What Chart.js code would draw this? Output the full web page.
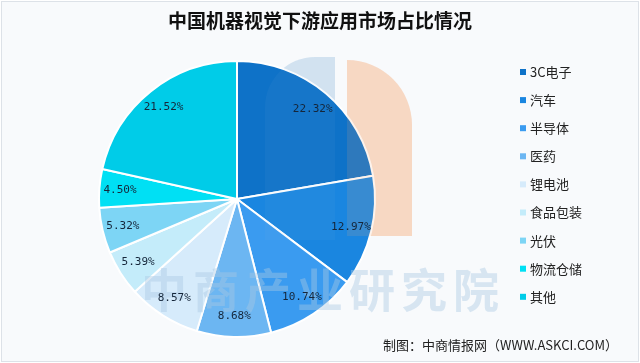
<!DOCTYPE html>
<html>
<head>
<meta charset="utf-8">
<script src="https://cdn.jsdelivr.net/npm/chart.js@4.4.0/dist/chart.umd.min.js"></script>
<style>
	html, body { margin: 0; padding: 0; background: #fff; }
	#wrap { width: 640px; height: 363px; position: relative; }
</style>
</head>
<body>
<div id="wrap"><canvas id="pieChart"></canvas></div>
<script>
// chart data
const categories = ['3C电子', '汽车', '半导体', '医药', '锂电池', '食品包装', '光伏', '物流仓储', '其他'];
const shares = [22.32, 12.97, 10.74, 8.68, 8.57, 5.39, 5.32, 4.50, 21.52];
const sliceColors = ['#0e72c8', '#1a86e0', '#3a9bf0', '#6cb6f2', '#d6ebfb', '#c4ecfa', '#7dd5f5', '#00e0f4', '#00cce8'];

const chartTitle = '中国机器视觉下游应用市场占比情况';
const sourceNote = '制图：中商情报网（WWW.ASKCI.COM）';
const watermarkText = '中商产业研究院';

const cjkFont = '"Noto Sans CJK SC", "Noto Sans", sans-serif';

// logo outline, used behind and (faintly) over the pie
let drawLogo = (ctx, blue, peach) => {
	ctx.fillStyle = blue;
	ctx.beginPath();
	ctx.moveTo(335, 57);
	ctx.lineTo(315, 57);
	ctx.arcTo(265, 57, 265, 110, 50);
	ctx.lineTo(265, 240);
	ctx.lineTo(335, 240);
	ctx.closePath();
	ctx.fill();

	ctx.fillStyle = peach;
	ctx.beginPath();
	ctx.moveTo(347, 60);
	ctx.arc(347, 125, 65, -Math.PI / 2, 0);
	ctx.lineTo(412, 236);
	ctx.lineTo(347, 236);
	ctx.closePath();
	ctx.fill();
};

// panel background + border + logo behind the pie
let panelBackground = {
	id: 'panelBackground',
	beforeDraw (chart) {
		let { ctx, width, height } = chart;
		ctx.save();
		ctx.fillStyle = '#ffffff';
		ctx.fillRect(0, 0, width, height);
		ctx.fillStyle = '#f8fafc';
		ctx.fillRect(1, 1, width - 2, height - 2);
		ctx.strokeStyle = '#dde2e8';
		ctx.lineWidth = 1;
		ctx.strokeRect(1.5, 1.5, width - 3, height - 3);
		drawLogo(ctx, '#d6e5f2', '#f9e0d0');
		ctx.restore();
	},
};

// faint logo + watermark laid over the pie
let brandOverlay = {
	id: 'brandOverlay',
	afterDatasetsDraw (chart) {
		let { ctx } = chart;
		ctx.save();
		drawLogo(ctx, 'rgba(150, 190, 225, 0.06)', 'rgba(240, 170, 120, 0.14)');
		ctx.fillStyle = 'rgba(170, 200, 226, 0.42)';
		ctx.font = 'bold 46px ' + cjkFont;
		ctx.textAlign = 'center';
		ctx.textBaseline = 'middle';
		[...watermarkText].forEach((ch, idx) => {
			ctx.fillText(ch, 164 + idx * 52, 290);
		});
		ctx.restore();
	},
};

// percentage labels inside slices
let sliceLabels = {
	id: 'sliceLabels',
	afterDatasetsDraw (chart) {
		let { ctx } = chart;
		let meta = chart.getDatasetMeta(0);
		ctx.save();
		ctx.font = '11px "DejaVu Sans Mono", monospace';
		ctx.fillStyle = '#15263a';
		ctx.textAlign = 'center';
		ctx.textBaseline = 'middle';
		meta.data.forEach((arc, idx) => {
			let { x, y, startAngle, endAngle, outerRadius } = arc.getProps(['x', 'y', 'startAngle', 'endAngle', 'outerRadius'], true);
			let mid = (startAngle + endAngle) / 2;
			let r = outerRadius * 0.85;
			ctx.fillText(shares[idx].toFixed(2) + '%', x + Math.cos(mid) * r, y + Math.sin(mid) * r);
		});
		ctx.restore();
	},
};

// title, legend and source note
let decorations = {
	id: 'decorations',
	afterDraw (chart) {
		let { ctx } = chart;
		ctx.save();
		ctx.fillStyle = '#111111';
		ctx.font = 'bold 19px ' + cjkFont;
		ctx.textAlign = 'center';
		ctx.textBaseline = 'middle';
		ctx.fillText(chartTitle, 320, 21);

		// legend
		ctx.font = '13px ' + cjkFont;
		ctx.textAlign = 'left';
		categories.forEach((name, idx) => {
			let cy = 72 + idx * 28.1;
			ctx.fillStyle = sliceColors[idx];
			ctx.fillRect(520, cy - 3, 6, 6);
			ctx.fillStyle = '#222222';
			ctx.fillText(name, 530, cy);
		});

		// source
		ctx.font = '13px ' + cjkFont;
		ctx.textAlign = 'right';
		ctx.fillStyle = '#222222';
		ctx.fillText(sourceNote, 618, 345);
		ctx.restore();
	},
};

new Chart(document.getElementById('pieChart'), {
	type: 'pie',
	data: {
		labels: categories,
		datasets: [{
			data: shares,
			backgroundColor: sliceColors,
			borderColor: '#ffffff',
			borderWidth: 2,
		}],
	},
	options: {
		responsive: true,
		maintainAspectRatio: false,
		animation: false,
		layout: {
			padding: { top: 60, bottom: 25, left: 97, right: 263 },
		},
		plugins: {
			legend: { display: false },
			title: { display: false },
			tooltip: { enabled: false },
		},
	},
	plugins: [panelBackground, brandOverlay, sliceLabels, decorations],
});
</script>
</body>
</html>
